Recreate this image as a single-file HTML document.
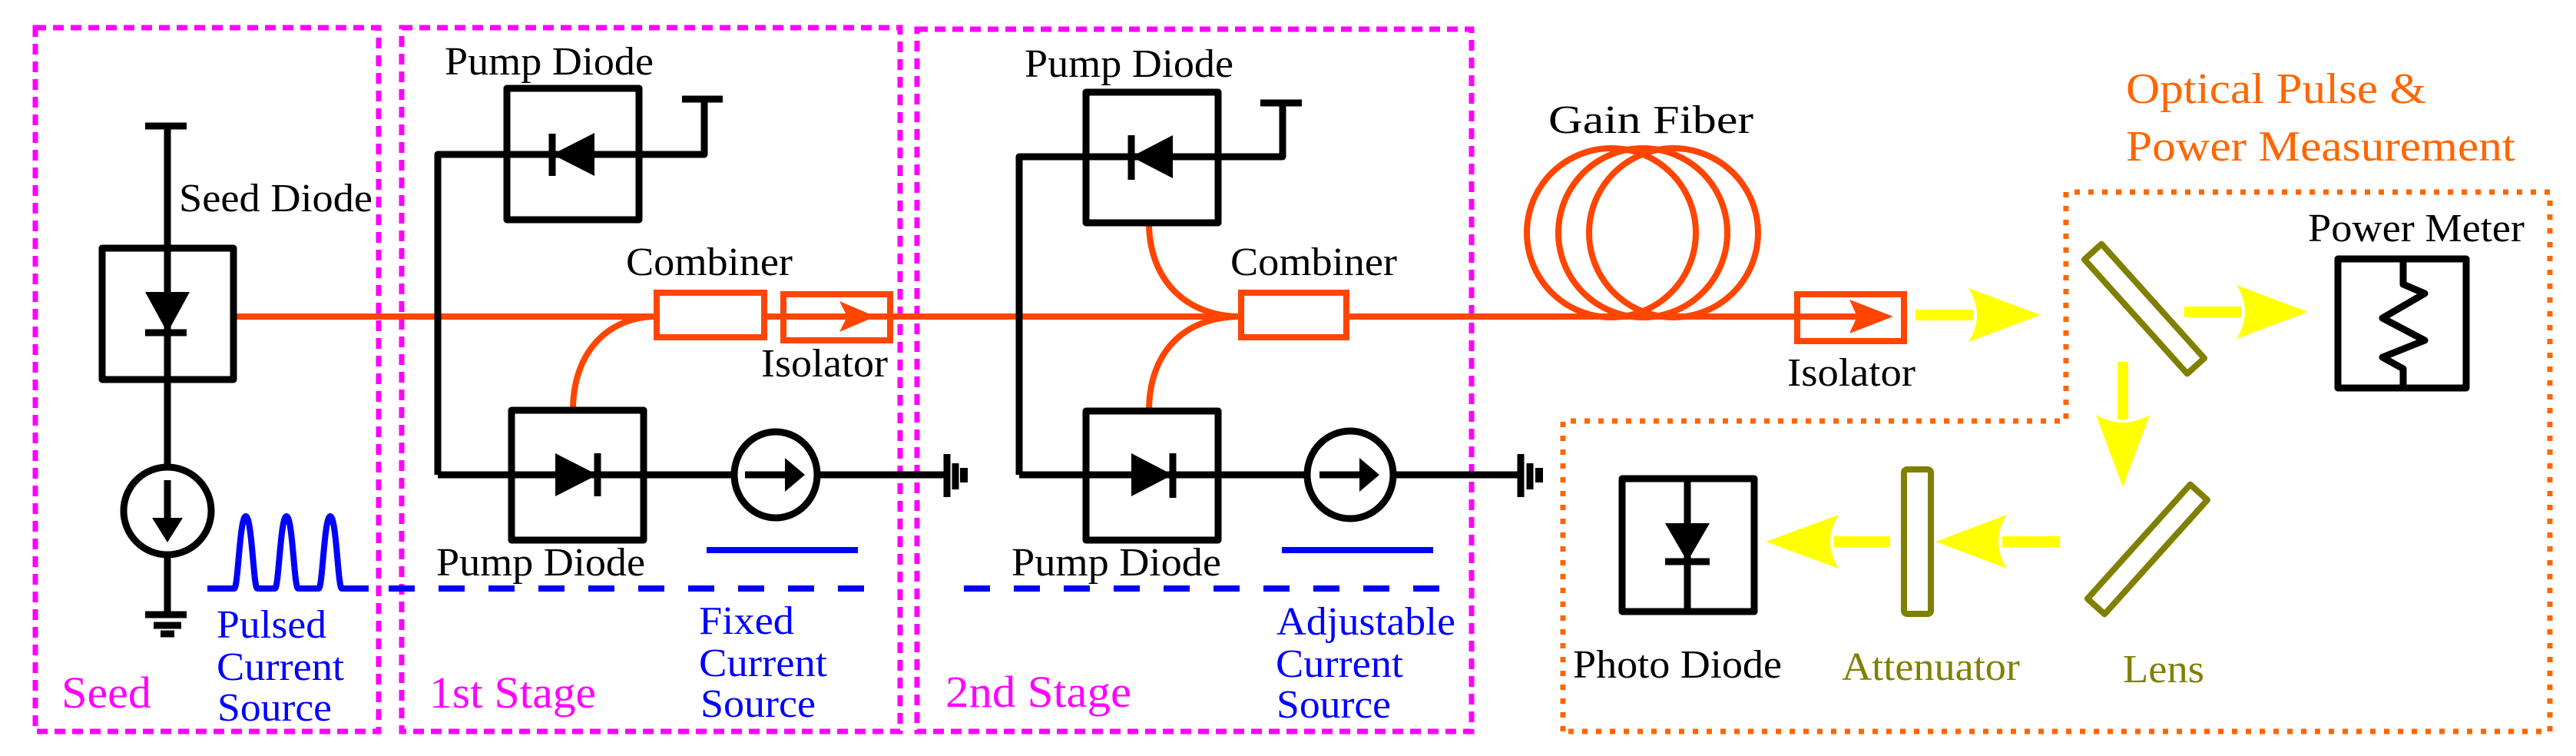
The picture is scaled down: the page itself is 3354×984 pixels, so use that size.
<!DOCTYPE html>
<html><head><meta charset="utf-8"><style>
html,body{margin:0;padding:0;background:#fff;}
svg{display:block;}
svg text{font-family:"Liberation Serif","DejaVu Serif","Times New Roman",serif;}
</style></head><body>
<svg width="3354" height="984" viewBox="0 0 3354 984" xmlns="http://www.w3.org/2000/svg" font-family="Liberation Serif, DejaVu Serif, serif">
<rect width="3354" height="984" fill="#fff"/>
<g fill="none" stroke="#ff00ff" stroke-width="7" stroke-dasharray="14 9">
<rect x="46" y="36" width="447" height="916"/>
<rect x="523" y="36" width="649" height="916"/>
<rect x="1194" y="38" width="722" height="914"/>
</g>
<path d="M2035 952 L2035 548 L2690 548 L2690 250 L3320 250 L3320 952 Z" fill="none" stroke="#ff6600" stroke-width="7" stroke-dasharray="7 11"/>

<g fill="none" stroke="#ff4500" stroke-width="8">
<line x1="304" y1="412" x2="855" y2="412"/>
<rect x="855" y="381" width="140" height="58"/>
<line x1="995" y1="412" x2="1020" y2="412"/>
<rect x="1020" y="383" width="139" height="60"/>
<line x1="1020" y1="412" x2="1616" y2="412"/>
<path d="M746 534 C746 460 790 412 855 412"/>
<rect x="1616" y="381" width="137" height="58"/>
<path d="M1496 290 C1496 360 1540 412 1616 412"/>
<path d="M1496 535 C1496 460 1540 412 1616 412"/>
<line x1="1753" y1="412" x2="2340" y2="412"/>
<circle cx="2098" cy="303" r="110"/>
<circle cx="2139" cy="303" r="110"/>
<circle cx="2179" cy="303" r="110"/>
<rect x="2340" y="383" width="139" height="61"/>
<line x1="2340" y1="412" x2="2420" y2="412"/>
</g>
<g fill="#ff4500">
<path d="M1140 412 L1093 392 L1103 412 L1093 432 Z"/>
<path d="M2465 412 L2408 390 L2418 412 L2408 434 Z"/>
</g>

<g fill="none" stroke="#000" stroke-width="9" stroke-linejoin="round">
<line x1="189" y1="164" x2="243" y2="164"/>
<line x1="218" y1="164" x2="218" y2="800"/>
<rect x="133" y="323" width="171" height="171"/>
<line x1="189" y1="433" x2="243" y2="433"/>
<ellipse cx="218" cy="665" rx="57" ry="57" fill="#fff"/>
<line x1="218" y1="625" x2="218" y2="680"/>
<line x1="189" y1="800" x2="243" y2="800"/>
<line x1="200" y1="814" x2="236" y2="814"/>
<line x1="209" y1="825" x2="227" y2="825"/>
<rect x="660" y="115" width="172" height="171"/>
<path d="M570 618 L570 201 L917 201 L917 129"/>
<line x1="888" y1="129" x2="941" y2="129"/>
<line x1="719" y1="174" x2="719" y2="229"/>
<rect x="666" y="534" width="172" height="169"/>
<line x1="570" y1="618" x2="1233" y2="618"/>
<line x1="778" y1="590" x2="778" y2="646"/>
<ellipse cx="1010" cy="618" rx="54" ry="56" fill="#fff"/>
<line x1="970" y1="618" x2="1025" y2="618"/>
<line x1="1233" y1="591" x2="1233" y2="647"/>
<line x1="1244" y1="603" x2="1244" y2="637"/>
<line x1="1255" y1="609" x2="1255" y2="628" stroke-width="10"/>
<rect x="1414" y="120" width="172" height="170"/>
<path d="M1327 618 L1327 204 L1670 204 L1670 134"/>
<line x1="1641" y1="134" x2="1695" y2="134"/>
<line x1="1473" y1="176" x2="1473" y2="234"/>
<rect x="1414" y="535" width="172" height="168"/>
<line x1="1327" y1="618" x2="1980" y2="618"/>
<line x1="1527" y1="590" x2="1527" y2="648"/>
<ellipse cx="1758" cy="618" rx="56" ry="57" fill="#fff"/>
<line x1="1718" y1="618" x2="1775" y2="618"/>
<line x1="1980" y1="591" x2="1980" y2="647"/>
<line x1="1992" y1="603" x2="1992" y2="637"/>
<line x1="2004" y1="609" x2="2004" y2="628" stroke-width="10"/>
<rect x="2112" y="623" width="172" height="173"/>
<line x1="2197" y1="623" x2="2197" y2="796"/>
<line x1="2168" y1="731" x2="2226" y2="731"/>
<rect x="3044" y="337" width="167" height="168"/>
<path d="M3129 337 L3129 370 L3157 382 L3102 414 L3157 443 L3102 465 L3129 480 L3129 505"/>
</g>
<g fill="#000">
<path d="M189 380 L247 380 L218 433 Z"/>
<path d="M218 706 L198 674 L238 674 Z"/>
<path d="M719 201 L774 173 L774 229 Z"/>
<path d="M778 618 L723 590 L723 646 Z"/>
<path d="M1048 618 L1022 596 L1022 640 Z"/>
<path d="M1473 204 L1527 176 L1527 232 Z"/>
<path d="M1527 618 L1473 590 L1473 646 Z"/>
<path d="M1796 618 L1770 596 L1770 640 Z"/>
<path d="M2168 681 L2226 681 L2197 731 Z"/>
</g>

<g fill="none" stroke="#0000ff" stroke-width="8">
<path d="M270 766 L305 766 C310 766 312 672 320 672 C328 672 330 766 335 766 L358 766 C363 766 365 672 373 672 C381 672 383 766 388 766 L415 766 C420 766 422 672 430 672 C438 672 440 766 445 766 L480 766"/>
<line x1="506" y1="766" x2="1128" y2="766" stroke-dasharray="34 31"/>
<line x1="1255" y1="766" x2="1876" y2="766" stroke-dasharray="34 31"/>
<line x1="920" y1="716" x2="1117" y2="716"/>
<line x1="1669" y1="716" x2="1866" y2="716"/>
</g>

<g fill="#ffff00">
<rect x="2494" y="403" width="75" height="14"/>
<path d="M2657 410 L2563 375 Q2585 410 2563 445 Z"/>
<rect x="2844" y="399" width="75" height="14"/>
<path d="M3005 406 L2912 371 Q2934 406 2912 441 Z"/>
<rect x="2757" y="471" width="14" height="75"/>
<path d="M2764 634 L2729 540 Q2764 560 2799 540 Z"/>
<rect x="2607" y="698" width="75" height="14"/>
<path d="M2520 705 L2613 670 Q2591 705 2613 740 Z"/>
<rect x="2388" y="698" width="73" height="14"/>
<path d="M2299 705 L2394 670 Q2372 705 2394 740 Z"/>
</g>
<g fill="none" stroke="#808000" stroke-width="8" stroke-linejoin="round">
<rect x="2692" y="387" width="200" height="30" transform="rotate(48 2792 402)"/>
<rect x="2696" y="700" width="200" height="30" transform="rotate(-48 2796 715)"/>
<rect x="2479" y="611" width="35" height="188" rx="4"/>
</g>

<g font-size="52" fill="#000">
<text x="579" y="97" textLength="272" lengthAdjust="spacingAndGlyphs">Pump Diode</text>
<text x="233" y="275" textLength="252" lengthAdjust="spacingAndGlyphs">Seed Diode</text>
<text x="815" y="358" textLength="217" lengthAdjust="spacingAndGlyphs">Combiner</text>
<text x="991" y="490" textLength="165" lengthAdjust="spacingAndGlyphs">Isolator</text>
<text x="568" y="749" textLength="272" lengthAdjust="spacingAndGlyphs">Pump Diode</text>
<text x="1334" y="100" textLength="272" lengthAdjust="spacingAndGlyphs">Pump Diode</text>
<text x="1602" y="358" textLength="217" lengthAdjust="spacingAndGlyphs">Combiner</text>
<text x="1317" y="749" textLength="273" lengthAdjust="spacingAndGlyphs">Pump Diode</text>
<text x="2016" y="173" textLength="267" lengthAdjust="spacingAndGlyphs">Gain Fiber</text>
<text x="2327" y="502" textLength="167" lengthAdjust="spacingAndGlyphs">Isolator</text>
<text x="3005" y="314" textLength="282" lengthAdjust="spacingAndGlyphs">Power Meter</text>
<text x="2048" y="882" textLength="272" lengthAdjust="spacingAndGlyphs">Photo Diode</text>
</g>
<g font-size="52" fill="#0000ff">
<text x="282" y="830" textLength="143" lengthAdjust="spacingAndGlyphs">Pulsed</text>
<text x="282" y="885" textLength="166" lengthAdjust="spacingAndGlyphs">Current</text>
<text x="283" y="938" textLength="149" lengthAdjust="spacingAndGlyphs">Source</text>
<text x="910" y="825" textLength="124" lengthAdjust="spacingAndGlyphs">Fixed</text>
<text x="910" y="880" textLength="167" lengthAdjust="spacingAndGlyphs">Current</text>
<text x="912" y="933" textLength="150" lengthAdjust="spacingAndGlyphs">Source</text>
<text x="1662" y="826" textLength="233" lengthAdjust="spacingAndGlyphs">Adjustable</text>
<text x="1661" y="881" textLength="166" lengthAdjust="spacingAndGlyphs">Current</text>
<text x="1662" y="934" textLength="149" lengthAdjust="spacingAndGlyphs">Source</text>
</g>
<g font-size="58" fill="#ff00ff">
<text x="80" y="921" textLength="117" lengthAdjust="spacingAndGlyphs">Seed</text>
<text x="559" y="921" textLength="217" lengthAdjust="spacingAndGlyphs">1st Stage</text>
<text x="1231" y="920" textLength="242" lengthAdjust="spacingAndGlyphs">2nd Stage</text>
</g>
<g font-size="56" fill="#ff6600">
<text x="2768" y="134" textLength="391" lengthAdjust="spacingAndGlyphs">Optical Pulse &amp;</text>
<text x="2768" y="209" textLength="507" lengthAdjust="spacingAndGlyphs">Power Measurement</text>
</g>
<g font-size="52" fill="#808000">
<text x="2398" y="885" textLength="232" lengthAdjust="spacingAndGlyphs">Attenuator</text>
<text x="2764" y="888" textLength="106" lengthAdjust="spacingAndGlyphs">Lens</text>
</g>
</svg>
</body></html>
